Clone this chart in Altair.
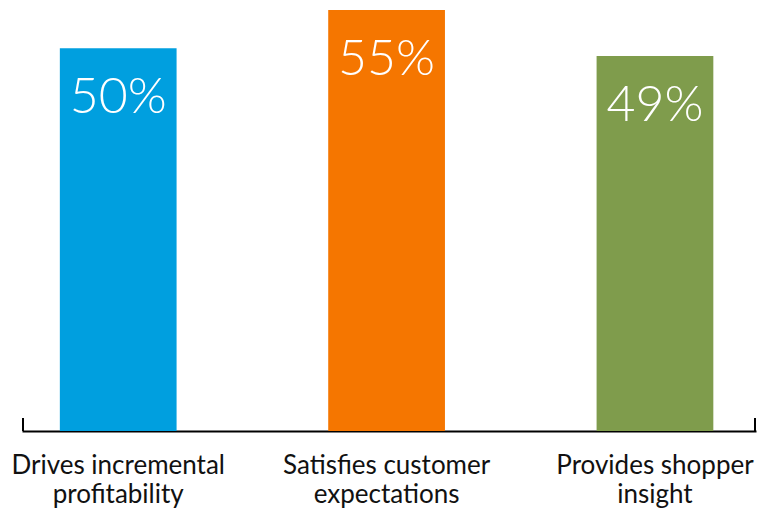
import altair as alt
import pandas as pd

categories = ["Drives incremental|profitability", "Satisfies customer|expectations", "Provides shopper|insight"]
values = [50, 55, 49]
labels = ["50%", "55%", "49%"]
colors = ["#009FDF", "#F57600", "#7F9C4C"]

df = pd.DataFrame({"cat": categories, "value": values, "label": labels})

x = alt.X("cat:N", sort=None,
          scale=alt.Scale(paddingInner=0.565, paddingOuter=0.15, align=0.47),
          axis=alt.Axis(title=None, labelAngle=0, ticks=False, domainColor="#000000",
                        domainWidth=2, labelFontSize=26, labelFont="Lato",
                        labelColor="#111111", labelPadding=21, labelLineHeight=29,
                        labelBaseline="top", labelLimit=400,
                        labelExpr="split(datum.label, '|')"))
y = alt.Y("value:Q", scale=alt.Scale(domain=[0, 56.3], nice=False), axis=None)

base = alt.Chart(df)
bars = base.mark_bar().encode(
    x=x, y=y,
    color=alt.Color("cat:N", sort=None, scale=alt.Scale(domain=categories, range=colors), legend=None),
)
text = base.mark_text(font="Lato", fontSize=50, fontWeight=300, color="white",
                      baseline="alphabetic", dy=65).encode(x=x, y=y, text="label:N")

ticks_l = alt.Chart(df).mark_rule(color="black", strokeWidth=2).encode(
    x=alt.value(1), y=alt.value(418), y2=alt.value(431))
ticks_r = alt.Chart(df).mark_rule(color="black", strokeWidth=2).encode(
    x=alt.value(733), y=alt.value(418), y2=alt.value(431))

chart = alt.layer(bars, text, ticks_l, ticks_r).properties(
    width=734, height=431, background="white",
    padding={"left": 22, "top": 0, "right": 1, "bottom": 82},
    autosize=alt.AutoSizeParams(type="none"),
).configure_view(stroke=None)

chart.save("out.html", embed_options={"renderer": "svg", "actions": False})
